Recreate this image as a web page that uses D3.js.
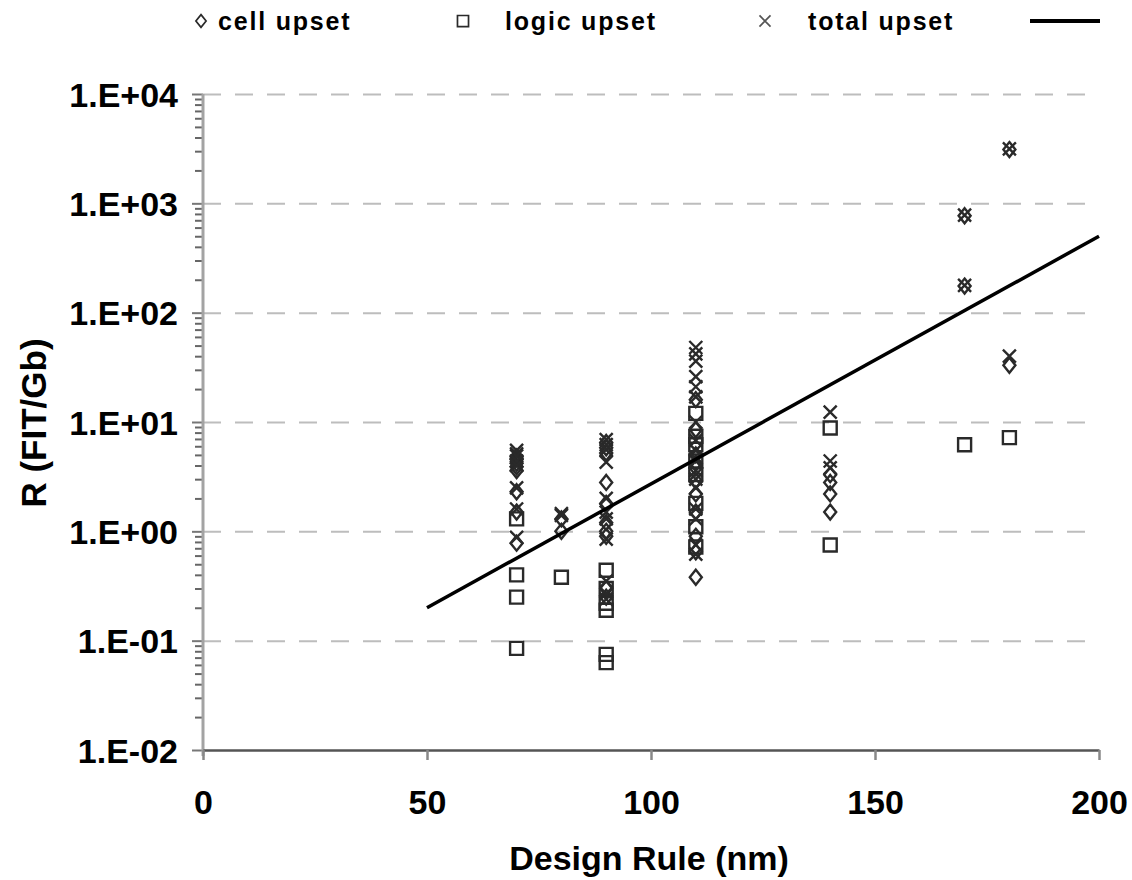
<!DOCTYPE html>
<html>
<head>
<meta charset="utf-8">
<script src="https://cdn.jsdelivr.net/npm/d3@7"></script>
<style>
  html, body { margin: 0; padding: 0; background: #fff; }
  svg { display: block; font-family: "Liberation Sans", Arial, sans-serif; }
</style>
</head>
<body>
<script>
var cellUpset = [
  {rule: 70,  r: [4.8, 4.6, 4.2, 3.9, 3.6, 2.3, 1.5, 0.78]},
  {rule: 80,  r: [1.3, 1.0]},
  {rule: 90,  r: [6.5, 5.8, 5.2, 2.8, 1.8, 1.2, 1.0, 0.9, 0.3, 0.25]},
  {rule: 110, r: [16, 8.5, 5.0, 4.2, 3.8, 2.9, 2.2, 1.5, 0.9, 0.65, 0.38]},
  {rule: 140, r: [3.3, 2.8, 2.2, 1.5]},
  {rule: 170, r: [770, 175]},
  {rule: 180, r: [3100, 33]}
];
var logicUpset = [
  {rule: 70,  r: [1.3, 0.4, 0.25, 0.085]},
  {rule: 80,  r: [0.38]},
  {rule: 90,  r: [0.44, 0.3, 0.22, 0.19, 0.075, 0.063]},
  {rule: 110, r: [12, 7.4, 6.2, 4.4, 3.3, 1.8, 1.1, 0.72]},
  {rule: 140, r: [8.8, 0.75]},
  {rule: 170, r: [6.2]},
  {rule: 180, r: [7.2]}
];
var totalUpset = [
  {rule: 70,  r: [5.5, 5.1, 4.9, 4.4, 4.0, 2.5, 1.6, 0.88]},
  {rule: 80,  r: [1.45, 1.4]},
  {rule: 90,  r: [6.9, 6.2, 5.6, 4.3, 2.0, 1.5, 1.3, 0.85, 0.35, 0.27, 0.24]},
  {rule: 110, r: [48, 42, 36, 26, 21, 17, 10, 6.8, 5.5, 4.6, 3.6, 3.0, 2.5, 1.6, 1.3, 0.75, 0.62]},
  {rule: 140, r: [12.3, 4.4, 3.8]},
  {rule: 170, r: [780, 178]},
  {rule: 180, r: [3150, 40]}
];
// exponential trend line end points
var trend = [{rule: 50, r: 0.2}, {rule: 200, r: 500}];

var xTicks = [0, 50, 100, 150, 200];
var yTicks = [1e-2, 1e-1, 1e0, 1e1, 1e2, 1e3, 1e4];
var legendLabels = ["cell upset", "logic upset", "total upset"];

var W = 1132, H = 880;
var x = d3.scaleLinear().domain([0, 200]).range([203, 1099]);
var y = d3.scaleLog().domain([1e-2, 1e4]).range([750, 94]);

var svg = d3.select("body").append("svg")
    .attr("width", W)
    .attr("height", H);

function fmt(v) {
  var e = Math.round(Math.log10(v));
  return "1.E" + (e < 0 ? "-" : "+") + String(Math.abs(e)).padStart(2, "0");
}

// grid
var grid = svg.append("g")
    .attr("transform", "translate(203,0)")
    .call(d3.axisLeft(y).tickValues(yTicks.slice(1)).tickSize(-896).tickFormat(""));
grid.select(".domain").remove();
grid.selectAll("line")
    .attr("stroke", "#bdbdbd")
    .attr("stroke-width", 2)
    .attr("stroke-dasharray", "18,14")
    .attr("x1", 0);
grid.selectAll("line").attr("x2", 896);

// minor ticks
var minor = [];
yTicks.slice(0, -1).forEach(function (d) {
  for (var k = 2; k <= 9; k++) minor.push(d * k);
});
var minorAxis = svg.append("g")
    .attr("transform", "translate(202,0)")
    .call(d3.axisLeft(y).tickValues(minor).tickSize(7).tickFormat(""));
minorAxis.select(".domain").remove();
minorAxis.selectAll("line").attr("stroke", "#666").attr("stroke-width", 2);

// y axis
var yAxis = svg.append("g")
    .attr("transform", "translate(203,0)")
    .call(d3.axisLeft(y).tickValues(yTicks).tickSize(11).tickPadding(14).tickFormat(fmt));
yAxis.select(".domain").remove();
yAxis.selectAll("line").attr("stroke", "#777").attr("stroke-width", 2);
yAxis.selectAll("text")
    .attr("font-size", 34)
    .attr("font-weight", "bold")
    .attr("fill", "#000")
    .attr("dy", "0.36em");
svg.append("line")
    .attr("x1", 203).attr("x2", 203)
    .attr("y1", 94).attr("y2", 756)
    .attr("stroke", "#a3a3a3").attr("stroke-width", 3);

// x axis
var xAxis = svg.append("g")
    .attr("transform", "translate(0,750)")
    .call(d3.axisBottom(x).tickValues(xTicks).tickSize(10).tickPadding(30).tickSizeOuter(0));
xAxis.select(".domain").attr("stroke", "#555").attr("stroke-width", 2.5);
xAxis.selectAll("line").attr("stroke", "#888").attr("stroke-width", 2.5);
xAxis.selectAll("text")
    .attr("font-size", 34)
    .attr("font-weight", "bold")
    .attr("fill", "#000")
    .attr("dy", "0.71em");

// titles
svg.append("text")
    .attr("x", 649).attr("y", 870)
    .attr("text-anchor", "middle")
    .attr("font-size", 34).attr("font-weight", "bold")
    .text("Design Rule (nm)");
svg.append("text")
    .attr("transform", "translate(46,423) rotate(-90)")
    .attr("text-anchor", "middle")
    .attr("font-size", 35).attr("font-weight", "bold")
    .text("R (FIT/Gb)");

// markers
var markStroke = "#2a2a2a";
var diamond = "M0,-7.5L6,0L0,7.5L-6,0Z";
var square = "M-6.5,-6.5H6.5V6.5H-6.5Z";
var cross = "M-6.5,-6.5L6.5,6.5M6.5,-6.5L-6.5,6.5";

function flat(series) {
  var out = [];
  series.forEach(function (g) {
    g.r.forEach(function (v) { out.push({rule: g.rule, r: v}); });
  });
  return out;
}

function drawSeries(data, path, cls) {
  svg.append("g").attr("class", cls)
    .selectAll("path")
    .data(flat(data))
    .join("path")
      .attr("transform", function (d) { return "translate(" + x(d.rule) + "," + y(d.r) + ")"; })
      .attr("d", path)
      .attr("fill", "none")
      .attr("stroke", markStroke)
      .attr("stroke-width", 2.4);
}
drawSeries(logicUpset, square, "logic");
drawSeries(cellUpset, diamond, "cell");
drawSeries(totalUpset, cross, "total");

// trend line
svg.append("path")
    .datum(trend)
    .attr("fill", "none")
    .attr("stroke", "#000")
    .attr("stroke-width", 3.5)
    .attr("d", d3.line().x(function (d) { return x(d.rule); }).y(function (d) { return y(d.r); }));

// legend
var legend = svg.append("g");
var legendItems = [
  {sym: diamond, sx: 201, tx: 218, label: legendLabels[0]},
  {sym: square, sx: 463, tx: 505, label: legendLabels[1]},
  {sym: cross, sx: 765, tx: 808, label: legendLabels[2]}
];
legendItems.forEach(function (it) {
  legend.append("path")
      .attr("transform", "translate(" + it.sx + ",21) scale(0.85)")
      .attr("d", it.sym)
      .attr("fill", "none")
      .attr("stroke", it.sym === cross ? "#555" : markStroke)
      .attr("stroke-width", 2);
  legend.append("text")
      .attr("x", it.tx).attr("y", 30)
      .attr("font-size", 25).attr("font-weight", "bold")
      .attr("letter-spacing", 1.8)
      .text(it.label);
});
legend.append("line")
    .attr("x1", 1030).attr("x2", 1100)
    .attr("y1", 21).attr("y2", 21)
    .attr("stroke", "#000").attr("stroke-width", 4);
</script>
</body>
</html>
